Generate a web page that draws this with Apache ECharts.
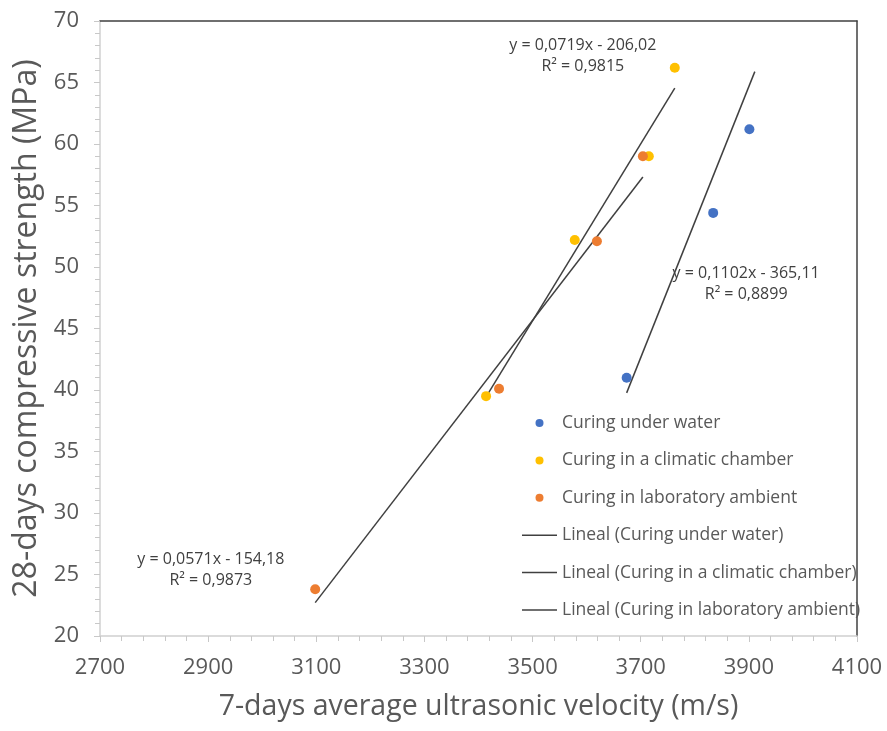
<!DOCTYPE html>
<html>
<head>
<meta charset="utf-8">
<script src="https://cdn.jsdelivr.net/npm/echarts@6/dist/echarts.min.js"></script>
<style>
  html, body { margin: 0; padding: 0; background: #fff; }
  #chart { width: 887px; height: 731px; }
</style>
</head>
<body>
<div id="chart"></div>
<script>
// measured points (7-days velocity m/s, 28-days strength MPa)
const seriesNames = ['Curing under water', 'Curing in a climatic chamber', 'Curing in laboratory ambient']
const velWater = [3674, 3834, 3901]
const strWater = [41.0, 54.4, 61.2]
const velChamber = [3414, 3578, 3715, 3763]
const strChamber = [39.5, 52.2, 59.0, 66.2]
const velAmbient = [3098, 3438, 3619, 3704]
const strAmbient = [23.8, 40.1, 52.1, 59.0]

// linear trends as printed on the chart: y = a*x + b
const trendSlope = [0.1102, 0.0719, 0.0571]
const trendIntercept = [-365.11, -206.02, -154.18]
const trendR2 = ['0,8899', '0,9815', '0,9873']
const trendFrom = [3674, 3414, 3098]
const trendTo = [3911, 3763, 3704]

const xTicks = { min: 2700, max: 4100, step: 200 }
const yTicks = { min: 20, max: 70, step: 5 }

// where the equation boxes sit (data coords)
const eqAt = [[3895, 48.6], [3593, 67.2], [2905, 25.4]]

const colors = ['#4472C4', '#FFC000', '#ED7D31']
const FONT = '"Open Sans", "Noto Sans", sans-serif'
const GREY_TXT = '#595959'
const LINE_ICON = 'path://M0,0 L35,0 L35,1.5 L0,1.5 Z'

const myChart = echarts.init(document.getElementById('chart'))

const pointSets = [
  velWater.map((v, i) => [v, strWater[i]]),
  velChamber.map((v, i) => [v, strChamber[i]]),
  velAmbient.map((v, i) => [v, strAmbient[i]])
]

const scatterSeries = pointSets.map((pts, i) => ({
  name: seriesNames[i],
  type: 'scatter',
  data: pts,
  symbolSize: 10,
  itemStyle: { color: colors[i], opacity: 1 },
  z: 3
}))

const trendSeries = trendSlope.map((a, i) => ({
  name: 'Lineal (' + seriesNames[i] + ')',
  type: 'line',
  data: [
    [trendFrom[i], a * trendFrom[i] + trendIntercept[i]],
    [trendTo[i], a * trendTo[i] + trendIntercept[i]]
  ],
  symbol: 'none',
  color: '#404040',
  lineStyle: { color: '#404040', width: 1.5 },
  z: 2
}))

function eqText(i) {
  const a = trendSlope[i].toFixed(4).replace('.', ',')
  const b = Math.abs(trendIntercept[i]).toFixed(2).replace('.', ',')
  return 'y = ' + a + 'x ' + (trendIntercept[i] < 0 ? '- ' : '+ ') + b + '\nR² = ' + trendR2[i]
}

const option = {
  backgroundColor: '#fff',
  animation: false,
  textStyle: { fontFamily: FONT },
  grid: { left: 100, top: 21, right: 30, bottom: 95 },
  legend: {
    orient: 'vertical',
    left: 517,
    top: 409,
    itemWidth: 35,
    itemHeight: 8,
    itemGap: 19.4,
    textStyle: { fontSize: 17.5, color: GREY_TXT, fontFamily: FONT },
    data: seriesNames.map(n => ({ name: n, icon: 'circle' }))
      .concat(seriesNames.map(n => ({
        name: 'Lineal (' + n + ')',
        icon: LINE_ICON,
        itemStyle: { color: '#404040' }
      })))
  },
  xAxis: [{
    type: 'value',
    min: xTicks.min,
    max: xTicks.max,
    interval: xTicks.step,
    position: 'bottom',
    name: '7-days average ultrasonic velocity (m/s)',
    nameLocation: 'middle',
    nameGap: 56,
    nameTextStyle: { fontSize: 28.5, color: GREY_TXT, fontFamily: FONT },
    axisLine: { show: true, onZero: false, lineStyle: { color: '#d0d0d0', width: 1.5 } },
    axisTick: { show: true, length: 6, lineStyle: { color: '#c8c8c8' } },
    minorTick: { show: true, splitNumber: 5, length: 5, lineStyle: { color: '#c8c8c8' } },
    axisLabel: { fontSize: 22, color: GREY_TXT, margin: 21, fontFamily: FONT, formatter: v => String(v) },
    splitLine: { show: false }
  }, {
    type: 'value',
    min: xTicks.min,
    max: xTicks.max,
    position: 'top',
    axisLine: { show: true, onZero: false, lineStyle: { color: '#404040', width: 1.5 } },
    axisTick: { show: false },
    axisLabel: { show: false },
    splitLine: { show: false }
  }],
  yAxis: [{
    type: 'value',
    min: yTicks.min,
    max: yTicks.max,
    interval: yTicks.step,
    position: 'left',
    name: '28-days compressive strength (MPa)',
    nameLocation: 'middle',
    nameGap: 54,
    nameTextStyle: { fontSize: 32, color: GREY_TXT, fontFamily: FONT },
    axisLine: { show: true, onZero: false, lineStyle: { color: '#d0d0d0', width: 1.5 } },
    axisTick: { show: true, length: 6, lineStyle: { color: '#c8c8c8' } },
    minorTick: { show: true, splitNumber: 5, length: 5, lineStyle: { color: '#c8c8c8' } },
    axisLabel: { fontSize: 22, color: GREY_TXT, margin: 21, fontFamily: FONT },
    splitLine: { show: false }
  }, {
    type: 'value',
    min: yTicks.min,
    max: yTicks.max,
    position: 'right',
    axisLine: { show: true, onZero: false, lineStyle: { color: '#404040', width: 1.5 } },
    axisTick: { show: false },
    axisLabel: { show: false },
    splitLine: { show: false }
  }],
  series: scatterSeries.concat(trendSeries)
}

myChart.setOption(option)

// equation labels, placed from data coordinates
myChart.setOption({
  graphic: eqAt.map((p, i) => {
    const px = myChart.convertToPixel({ xAxisIndex: 0, yAxisIndex: 0 }, p)
    return {
      type: 'text',
      x: px[0],
      y: px[1],
      z: 10,
      style: {
        text: eqText(i),
        fontSize: 16,
        fontFamily: FONT,
        fill: '#404040',
        align: 'center',
        verticalAlign: 'middle',
        lineHeight: 21
      }
    }
  })
})
</script>
</body>
</html>
